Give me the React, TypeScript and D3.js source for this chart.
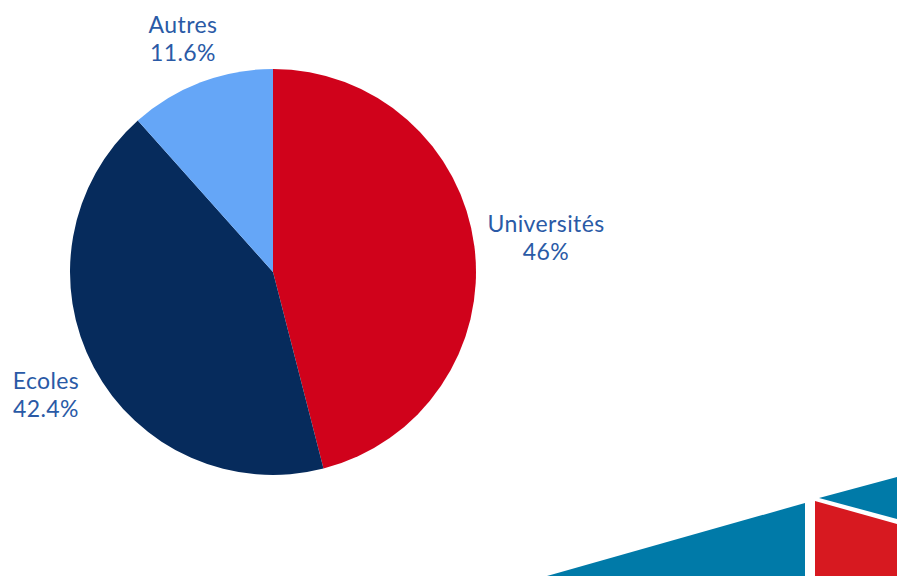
import React from "react";
import * as d3 from "d3";

const categories = ["Universités", "Ecoles", "Autres"];
const values = [46, 42.4, 11.6];
const labels = ["46%", "42.4%", "11.6%"];
const colors = ["#d0021b", "#062b5c", "#65a6f7"];

const W = 897;
const H = 576;
const cx = 273;
const cy = 272;
const R = 203;

// label anchor positions (x center, y of first baseline)
const labelPos: Record<string, [number, number, string]> = {
  "Universités": [546, 232, "middle"],
  "Ecoles": [46, 389, "middle"],
  "Autres": [183, 33, "middle"],
};

export default function App() {
  const pie = d3.pie<number>().sort(null).value((d) => d);
  const arcs = pie(values);
  const arc = d3.arc<d3.PieArcDatum<number>>().innerRadius(0).outerRadius(R);
  const textColor = "#2a5aa6";
  return (
    <svg
      width={W}
      height={H}
      style={{ position: "absolute", left: 0, top: 0, background: "#fff" }}
    >
      <rect x={0} y={0} width={W} height={H} fill="#fff" />
      <g transform={`translate(${cx},${cy})`}>
        {arcs.map((a, i) => (
          <path key={i} d={arc(a) || ""} fill={colors[i]} />
        ))}
      </g>
      {categories.map((c, i) => {
        const [x, y, anchor] = labelPos[c];
        return (
          <text
            key={c}
            x={x}
            y={y}
            textAnchor={anchor as any}
            fill={textColor}
            fontFamily="Lato, 'Noto Sans', sans-serif"
            fontSize={23}
            letterSpacing={0.4}
          >
            <tspan x={x}>{c}</tspan>
            <tspan x={x} dy={28}>
              {labels[i]}
            </tspan>
          </text>
        );
      })}
      {/* decorative corner shapes */}
      <polygon points="547,576 805,503 805,576" fill="#007aa8" />
      <polygon points="815,501 897,524 897,576 815,576" fill="#d71920" />
      <polygon points="819,498 897,477 897,519" fill="#007aa8" />
    </svg>
  );
}
